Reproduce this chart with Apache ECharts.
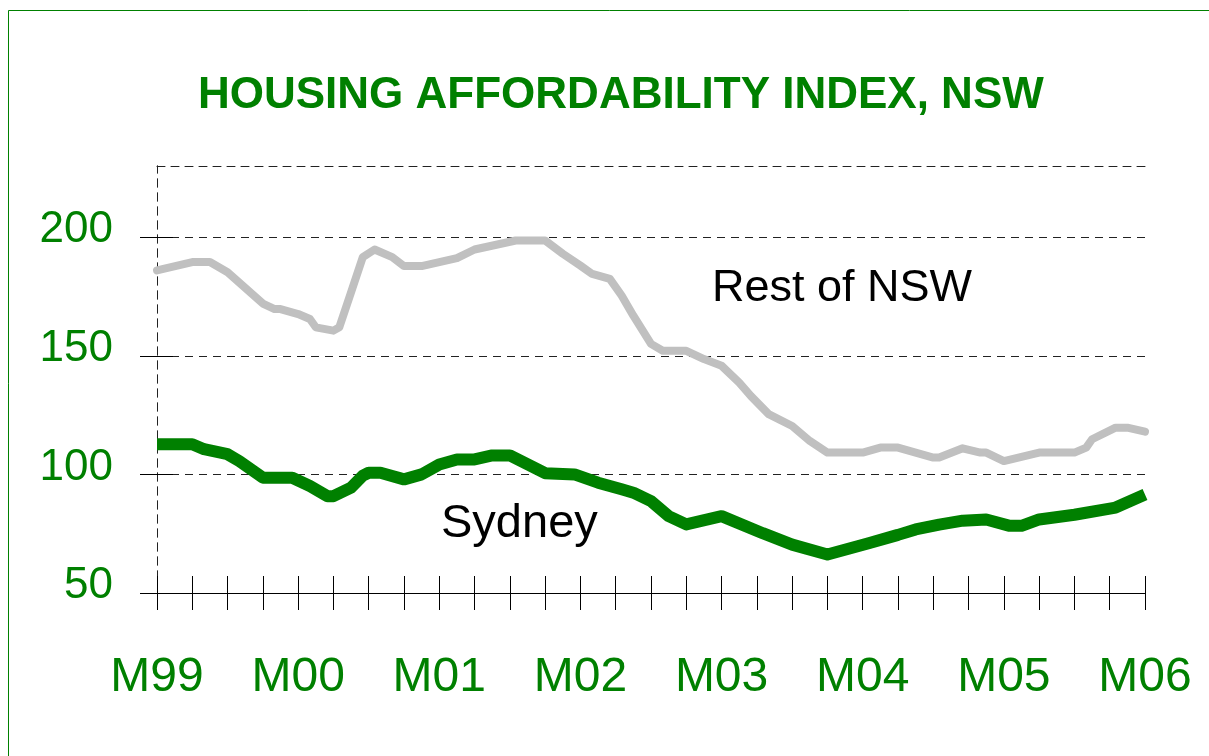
<!DOCTYPE html>
<html>
<head>
<meta charset="utf-8">
<script src="https://cdn.jsdelivr.net/npm/echarts@6/dist/echarts.min.js"></script>
<style>
html,body{margin:0;padding:0;background:#fff;}
#c{width:1209px;height:756px;}
</style>
</head>
<body>
<div id="c"></div>
<script>
// Month index: 0 = March 1999 ... 84 = March 2006
const titleText = 'HOUSING AFFORDABILITY INDEX, NSW';
const xLabels = ['M99', 'M00', 'M01', 'M02', 'M03', 'M04', 'M05', 'M06'];
const xLabelMonths = [0, 12, 24, 36, 48, 60, 72, 84];
const yTicks = [50, 100, 150, 200];

const restMonths = [0, 3, 4.5, 6, 9, 10, 10.5, 12, 13, 13.5, 15, 15.5, 16.5, 17.5, 18.5, 20, 21, 22.5, 25.5, 27, 30.5, 33, 34.5, 36, 37, 38.5, 39.5, 40.5, 42, 43, 45, 46.5, 48, 49.5, 50.5, 52, 54, 55.5, 57, 60, 61.5, 63, 66, 66.5, 68.5, 70, 70.5, 72, 75, 78, 79, 79.5, 81.5, 82.5, 84];
const restValues = [186, 189.5, 189.5, 185.2, 172, 169.7, 169.7, 167.6, 165.5, 162, 160.6, 162, 176.8, 191.6, 194.8, 191.6, 187.8, 187.8, 191.2, 194.8, 198.6, 198.6, 193, 188, 184.5, 182.4, 175.4, 166.9, 155, 152.1, 152.1, 148.6, 145.8, 138.7, 133, 125.4, 120.4, 114.1, 109.2, 109.2, 111.3, 111.3, 107.1, 107.1, 111, 109.2, 109.2, 105.6, 109.2, 109.2, 111.3, 114.8, 119.7, 119.7, 118];

const sydMonths = [0, 3, 4, 6, 7, 9, 11.5, 13, 14.5, 15, 16.5, 17.5, 18, 19, 21, 22.5, 24, 25.5, 27, 28.5, 30, 33, 35.5, 37.5, 39.5, 40.5, 42, 43.5, 45, 48, 51.5, 54, 57, 60.5, 63, 64.5, 66.5, 68.5, 70.5, 72.5, 73.5, 75, 78, 81.5, 84];
const sydValues = [112.7, 112.7, 110.6, 108.5, 105.6, 98.6, 98.6, 95.1, 90.8, 90.8, 94.4, 99.5, 100.7, 100.7, 97.9, 100, 104.2, 106.3, 106.3, 108, 108, 100.5, 100, 96.5, 93.7, 92.3, 88.7, 82.4, 78.9, 82.4, 75.2, 70.4, 66.2, 71, 74.5, 76.8, 78.8, 80.5, 81, 78.3, 78.3, 81, 83, 86, 91.5];

const seriesNames = ['Rest of NSW', 'Sydney'];

const GREEN = '#008000';
const FONT = 'Liberation Sans';

function pairs(xs, ys) { return xs.map((x, i) => [x, ys[i]]); }

const chart = echarts.init(document.getElementById('c'), null, {renderer: 'canvas'});

const yCommon = {type: 'value', min: 50, max: 230, interval: 50, gridIndex: 0};
const xCommon = {type: 'value', min: 0, max: 84, interval: 3, gridIndex: 0};

chart.setOption({
  animation: false,
  backgroundColor: '#ffffff',
  title: {
    text: titleText,
    left: 193,
    top: 69,
    textStyle: {fontFamily: FONT, fontSize: 44, fontWeight: 'bold', color: GREEN}
  },
  grid: {left: 157, right: 64, top: 166, bottom: 163, containLabel: false},
  xAxis: [
    Object.assign({}, xCommon, {
      position: 'bottom',
      axisLine: {show: true, lineStyle: {color: '#000', width: 1}},
      axisTick: {show: true, inside: false, length: 17, lineStyle: {color: '#000', width: 1}},
      axisLabel: {
        show: true,
        customValues: xLabelMonths,
        margin: 61,
        color: GREEN, fontFamily: FONT, fontSize: 48,
        formatter: v => (v % 12 === 0 ? xLabels[v / 12] : '')
      },
      splitLine: {show: false}
    }),
    Object.assign({}, xCommon, {
      position: 'bottom',
      axisLine: {show: false},
      axisTick: {show: true, inside: true, length: 17, lineStyle: {color: '#000', width: 1}},
      axisLabel: {show: false},
      splitLine: {show: false}
    }),
    Object.assign({}, xCommon, {
      position: 'top',
      axisLine: {show: true, lineStyle: {color: '#222', width: 1, type: [8, 6]}},
      axisTick: {show: false},
      axisLabel: {show: false},
      splitLine: {show: false}
    })
  ],
  yAxis: [
    Object.assign({}, yCommon, {
      position: 'left',
      axisLine: {show: true, lineStyle: {color: '#222', width: 1, type: [8, 6]}},
      axisTick: {show: true, inside: false, length: 17, customValues: yTicks, lineStyle: {color: '#000', width: 1}},
      axisLabel: {
        show: true, customValues: yTicks, margin: 44,
        formatter: v => '{a|' + v + '}',
        rich: {a: {color: GREEN, fontFamily: FONT, fontSize: 44, padding: [0, 0, 14, 0]}}
      },
      splitLine: {show: true, lineStyle: {color: '#222', width: 1, type: [8, 6]}}
    }),
    Object.assign({}, yCommon, {
      position: 'left',
      axisLine: {show: false},
      axisTick: {show: true, inside: true, length: 16, customValues: yTicks, lineStyle: {color: '#000', width: 1}},
      axisLabel: {show: false},
      splitLine: {show: false}
    }),
    Object.assign({}, yCommon, {
      position: 'right',
      axisLine: {show: true, lineStyle: {color: '#222', width: 1, type: [8, 6]}},
      axisTick: {show: false},
      axisLabel: {show: false},
      splitLine: {show: false}
    })
  ],
  series: [
    {
      name: seriesNames[0], type: 'line', xAxisIndex: 0, yAxisIndex: 0,
      data: pairs(restMonths, restValues),
      showSymbol: false, symbol: 'none', smooth: false,
      lineStyle: {color: '#c0c0c0', width: 8, cap: 'round', join: 'round'},
      z: 3
    },
    {
      name: seriesNames[1], type: 'line', xAxisIndex: 0, yAxisIndex: 0,
      data: pairs(sydMonths, sydValues),
      showSymbol: false, symbol: 'none', smooth: false,
      lineStyle: {color: GREEN, width: 12, cap: 'butt', join: 'round'},
      z: 4
    }
  ],
  graphic: [
    {type: 'rect', silent: true, z: -1,
     shape: {x: 8.5, y: 10.5, width: 1300, height: 900},
     style: {fill: 'none', stroke: GREEN, lineWidth: 1}},
    {type: 'text', left: 712, top: 266, silent: true,
     style: {text: seriesNames[0], fill: '#000', font: '45px "Liberation Sans"'}},
    {type: 'text', left: 441, top: 501, silent: true,
     style: {text: seriesNames[1], fill: '#000', font: '47px "Liberation Sans"'}}
  ]
});
</script>
</body>
</html>
